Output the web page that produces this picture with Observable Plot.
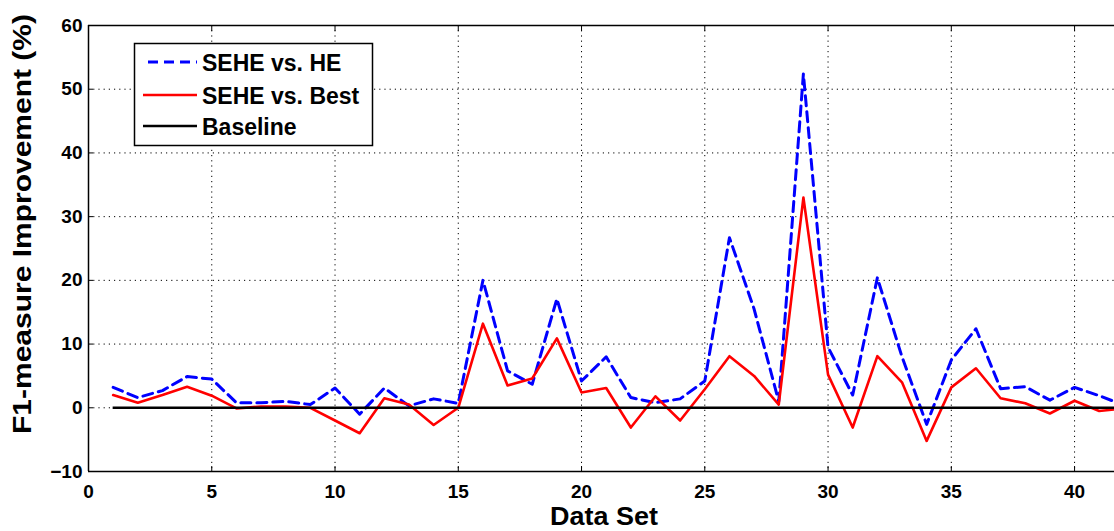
<!DOCTYPE html>
<html><head><meta charset="utf-8">
<script src="https://cdn.jsdelivr.net/npm/d3@7"></script>
<script src="https://cdn.jsdelivr.net/npm/@observablehq/plot@0.6"></script>
<style>
html,body{margin:0;padding:0;background:#fff;}
#chart{position:relative;width:1114px;height:531px;overflow:hidden;}
#legend{position:absolute;left:0;top:0;}
</style></head><body><div id="chart"></div>
<script>
const dataSets = [1,2,3,4,5,6,7,8,9,10,11,12,13,14,15,16,17,18,19,20,21,22,23,24,25,26,27,28,29,30,31,32,33,34,35,36,37,38,39,40,41,42];
const seheVsHE = [3.2,1.6,2.7,4.9,4.5,0.8,0.8,1.0,0.5,3.1,
                  -1.0,3.1,0.3,1.4,0.7,20.0,5.8,3.7,17.1,4.2,
                  8.0,1.6,0.8,1.4,4.2,26.7,15.5,1.0,52.4,9.5,
                  2.0,20.4,8.0,-2.6,7.5,12.4,3.0,3.3,1.2,3.2,
                  1.9,0.4];
const seheVsBest = [2.0,0.8,2.0,3.3,1.9,-0.1,0.2,0.2,0.0,-2.0,
                    -4.0,1.5,0.5,-2.7,0.0,13.2,3.5,4.6,10.9,2.4,
                    3.1,-3.1,1.8,-2.0,2.9,8.1,5.0,0.5,33.0,5.2,
                    -3.1,8.1,4.0,-5.2,3.2,6.2,1.5,0.7,-0.9,1.1,
                    -0.5,-0.1];
const baselineValue = [0];
const xTicks = [0,5,10,15,20,25,30,35,40];
const yTicks = [-10,0,10,20,30,40,50,60];
const xDomain = [0, 41.62];
const yDomain = [-10, 60];
const seriesNames = ["SEHE vs. HE","SEHE vs. Best","Baseline"];
const seriesColors = ["#0000ff","#ff0000","#000000"];
const xTitle = "Data Set";
const yTitle = "F1-measure Improvement (%)";

const rows = dataSets.map((d,i) => ({set:d, he:seheVsHE[i], best:seheVsBest[i]}));
const FONT = "'Liberation Sans', Arial, Helvetica, sans-serif";

const plot = Plot.plot({
  width:1114, height:531,
  marginLeft:88, marginRight:0, marginTop:25, marginBottom:60,
  x:{domain:xDomain, label:null},
  y:{domain:yDomain, label:null},
  style:{fontFamily:FONT, fontSize:"19px", fontWeight:"bold", color:"black", background:"white"},
  marks:[
    Plot.gridX(xTicks, {stroke:"black", strokeOpacity:1, strokeWidth:1, strokeDasharray:"1.2,4"}),
    Plot.gridY(yTicks, {stroke:"black", strokeOpacity:1, strokeWidth:1, strokeDasharray:"1.2,4"}),
    Plot.line(rows, {x:"set", y:"he", stroke:seriesColors[0], strokeWidth:3, strokeDasharray:"10,6", clip:true}),
    Plot.line(rows, {x:"set", y:"best", stroke:seriesColors[1], strokeWidth:2.6, clip:true}),
    Plot.ruleY(baselineValue, {x1:dataSets[0], x2:dataSets[dataSets.length-1], stroke:seriesColors[2], strokeWidth:2.4, clip:true}),
    Plot.ruleY([yDomain[0], yDomain[1]], {stroke:"black", strokeWidth:1.5}),
    Plot.ruleX([xDomain[0]], {stroke:"black", strokeWidth:1.5}),
    Plot.axisX({anchor:"bottom", ticks:xTicks, tickSize:0, tickPadding:13, label:null}),
    Plot.axisX({anchor:"bottom", ticks:xTicks, tickSize:-5, tickFormat:() => "", label:null}),
    Plot.axisX({anchor:"top", ticks:xTicks, tickSize:-5, tickFormat:() => "", label:null}),
    Plot.axisY({anchor:"left", ticks:yTicks, tickSize:0, tickPadding:6, label:null}),
    Plot.axisY({anchor:"left", ticks:yTicks, tickSize:-5, tickFormat:() => "", label:null})
  ]
});
document.getElementById("chart").appendChild(plot);

const svg = d3.select(plot);
svg.append("text")
  .attr("transform","translate(31,224) rotate(-90)")
  .attr("text-anchor","middle")
  .attr("font-family",FONT).attr("font-size",25).attr("font-weight","bold")
  .attr("textLength",420).attr("lengthAdjust","spacingAndGlyphs")
  .attr("fill","black")
  .text(yTitle);
svg.append("text")
  .attr("x",604).attr("y",525)
  .attr("text-anchor","middle")
  .attr("font-family",FONT).attr("font-size",25).attr("font-weight","bold")
  .attr("textLength",108).attr("lengthAdjust","spacingAndGlyphs")
  .attr("fill","black")
  .text(xTitle);

// legend overlay
const leg = d3.select("#chart").append("svg").attr("id","legend")
  .attr("width",1114).attr("height",531);
leg.append("rect").attr("x",134.5).attr("y",43.5).attr("width",238).attr("height",102)
  .attr("fill","white").attr("stroke","black").attr("stroke-width",1.5);
const rowY = [62,95,126];
seriesNames.forEach((name,i) => {
  const ln = leg.append("line").attr("x1", i===0 ? 148 : 143).attr("x2",197)
    .attr("y1",rowY[i]).attr("y2",rowY[i])
    .attr("stroke",seriesColors[i]).attr("stroke-width", i===0 ? 3 : 2.6);
  if (i===0) ln.attr("stroke-dasharray","10,6");
  leg.append("text").attr("x",202).attr("y",rowY[i]+9)
    .attr("font-family",FONT).attr("font-size",23).attr("font-weight","bold")
    .attr("fill","black").text(name);
});
</script></body></html>
